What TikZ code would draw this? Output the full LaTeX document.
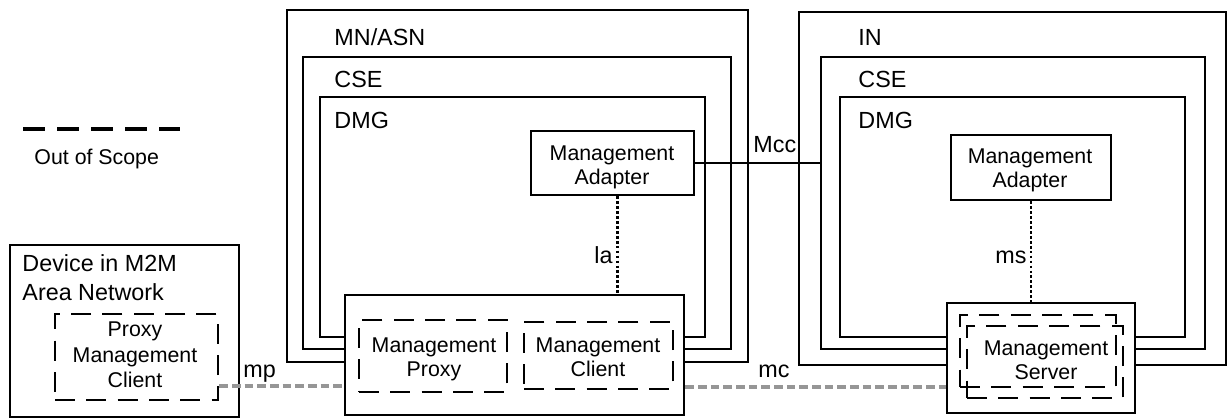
\documentclass[tikz,border=0pt]{standalone}
\usepackage{fontspec}
\setmainfont{Liberation Sans}
\usetikzlibrary{fit}

\tikzset{every picture/.style={line width=2.2pt}}

\begin{document}
\begin{tikzpicture}[x=0.75pt,y=0.75pt,yscale=-1,xscale=1,
    frame/.style={draw, inner sep=0pt, line width=2.2pt},
    oosframe/.style={draw, inner sep=0pt, line width=2pt, dash pattern=on 15pt off 8.5pt},
    tag/.style={anchor=base west, inner sep=0pt, font=\fontsize{17.5}{21}\selectfont},
    fnc/.style={align=center, inner sep=0pt, font=\fontsize{16}{18}\selectfont},
    iface/.style={line width=2pt, dash pattern=on 2pt off 1.7pt},
    oosline/.style={draw={rgb,255:red,150;green,150;blue,150}, line width=2.4pt, dash pattern=on 6.5pt off 3pt}]
    \useasboundingbox (0,0) rectangle (1228,419);

    %Legend
    \coordinate (lgA) at (23,129);
    \coordinate (lgB) at (180,129);
    \draw [line width=2.4pt, dash pattern=on 16.5pt off 9pt] (lgA) -- (lgB);
    \node [anchor=base west, inner sep=0pt, font=\fontsize{16}{18}\selectfont] (lgTxt) at (33,164) {Out of Scope};

    %Shape: MN/ASN nested boxes
    \node [frame, fit={(287,10) (748,362)}] (mn) {};
    \node [frame, fit={(303,57) (731,349)}] (mnCse) {};
    \node [frame, fit={(320,97) (705,337)}] (mnDmg) {};
    \node [tag] (mnTxt) at (333,45) {MN/ASN};
    \node [tag] (mnCseTxt) at (333,87) {CSE};
    \node [tag] (mnDmgTxt) at (333,128) {DMG};
    \node [frame, fit={(531,131) (694,195)}] (maL) {};
    \node [fnc] (maLTxt) at (612,167) {Management\\Adapter};

    %Shape: IN nested boxes
    \node [frame, fit={(799,12) (1226,365)}] (in) {};
    \node [frame, fit={(821,57) (1205,349)}] (inCse) {};
    \node [frame, fit={(840,97) (1185,337)}] (inDmg) {};
    \node [tag] (inTxt) at (857,45) {IN};
    \node [tag] (inCseTxt) at (857,87) {CSE};
    \node [tag] (inDmgTxt) at (857,128) {DMG};
    \node [frame, fit={(951,135) (1111,200)}] (maR) {};
    \node [fnc] (maRTxt) at (1030,170) {Management\\Adapter};

    %Shape: proxy and server boxes
    \node [frame, fill=white, fit={(345,295) (684,415)}] (prx) {};
    \node [oosframe, fit={(359,320) (507,392)}] (mgmtPrx) {};
    \node [fnc] (mgmtPrxTxt) at (434,359) {Management\\Proxy};
    \node [oosframe, fit={(524,322) (673,389)}] (mgmtCli) {};
    \node [fnc] (mgmtCliTxt) at (598,357) {Management\\Client};
    \node [frame, fill=white, fit={(947,303) (1135,413)}] (srv) {};
    \node [oosframe, fit={(960,315) (1116,387)}] (srvA) {};
    \node [oosframe, fit={(967,326) (1123,398)}] (srvB) {};
    \node [fnc] (srvTxt) at (1046,360) {Management\\Server};

    %Shape: device
    \node [frame, line width=1.6pt, fit={(10,245) (239,417)}] (dev) {};
    \node [tag] (devTxt) at (21,271) {Device in M2M};
    \node [tag] (devTxtB) at (21,300) {Area Network};
    \node [oosframe, fit={(55,314) (218,400)}] (pmc) {};
    \node [fnc, font=\fontsize{16}{19}\selectfont] (pmcTxt) at (135,355) {Proxy\\Management\\Client};

    %Reference points
    \draw [line width=1.6pt] (maL.east) -- (maL.east -| inCse.west);
    \draw [iface] ([xshift=3.75pt]maL.south) -- ([xshift=3.75pt]maL.south |- prx.north);
    \draw [iface] (maR.south) -- (maR.south |- srv.north);
    \coordinate (mpY) at (0,386);
    \coordinate (mcY) at (0,387);
    \draw [oosline] (pmc.east |- mpY) -- (prx.west |- mpY);
    \draw [oosline] (prx.east |- mcY) -- (srv.west |- mcY);

    \node [tag] (mccTxt) at (752,152) {Mcc};
    \node [tag] (laTxt) at (593,263) {la};
    \node [tag] (msTxt) at (994,263) {ms};
    \node [tag] (mpTxt) at (242,377) {mp};
    \node [tag] (mcTxt) at (757,377) {mc};
\end{tikzpicture}
\end{document}
